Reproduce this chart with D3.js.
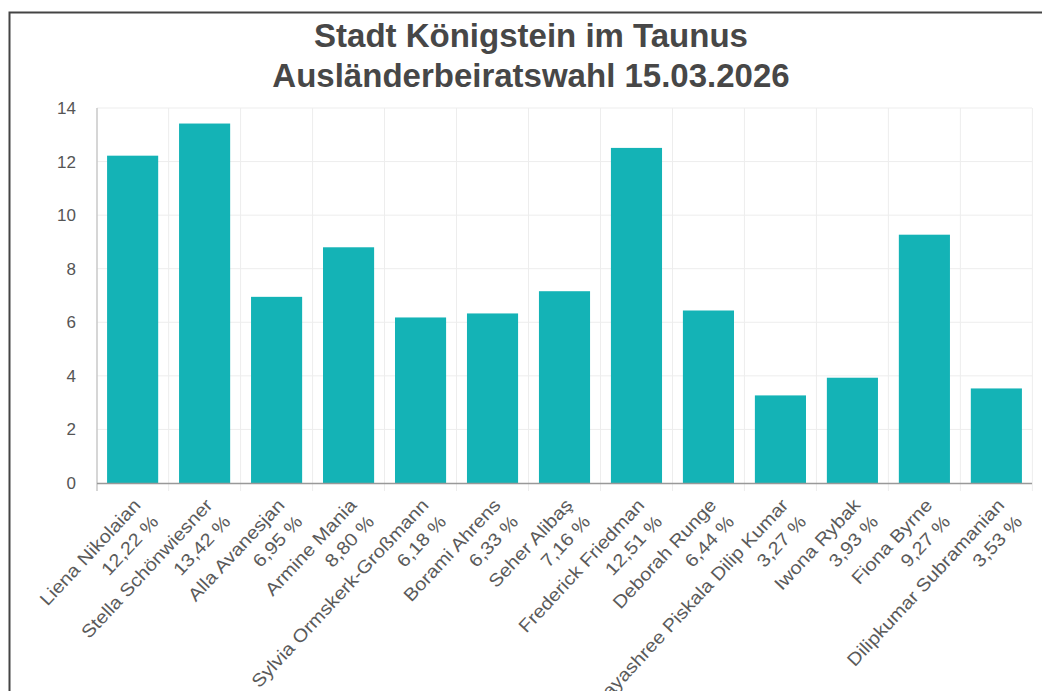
<!DOCTYPE html>
<html>
<head>
<meta charset="utf-8">
<script src="https://cdn.jsdelivr.net/npm/d3@7"></script>
<style>
  html, body { margin: 0; padding: 0; background: #fff; }
  svg { display: block; }
</style>
</head>
<body>
<svg id="chart" width="1042" height="691"></svg>
<script>
const titleLines = ["Stadt Königstein im Taunus", "Ausländerbeiratswahl 15.03.2026"];
const candidates = [
  "Liena Nikolaian", "Stella Schönwiesner", "Alla Avanesjan", "Armine Mania",
  "Sylvia Ormskerk-Großmann", "Borami Ahrens", "Seher Alibaş", "Frederick Friedman",
  "Deborah Runge", "Jayashree Piskala Dilip Kumar", "Iwona Rybak", "Fiona Byrne",
  "Dilipkumar Subramanian"
];
const percentLabels = ["12,22 %", "13,42 %", "6,95 %", "8,80 %", "6,18 %", "6,33 %", "7,16 %",
  "12,51 %", "6,44 %", "3,27 %", "3,93 %", "9,27 %", "3,53 %"];
const votes = [12.22, 13.42, 6.95, 8.80, 6.18, 6.33, 7.16, 12.51, 6.44, 3.27, 3.93, 9.27, 3.53];
const yTicks = [0, 2, 4, 6, 8, 10, 12, 14];

const svg = d3.select("#chart");
const W = 1042, H = 691;
const pLeft = 97, pRight = 1032, pTop = 108, pBottom = 483;

// frame
svg.append("path")
  .attr("d", `M9.5,${H} L9.5,12.5 L${W},12.5`)
  .attr("fill", "none").attr("stroke", "#444").attr("stroke-width", 2);

// title
titleLines.forEach((t, i) => {
  svg.append("text")
    .attr("transform", `translate(531,${47 + i * 40})`)
    .attr("text-anchor", "middle")
    .attr("font-family", "Liberation Sans, Arial, sans-serif")
    .attr("font-weight", "bold")
    .attr("font-size", 33)
    .attr("fill", "#474747")
    .text(t);
});

const x = d3.scaleBand().domain(candidates).range([pLeft, pRight]).paddingInner(0.29).paddingOuter(0.14);
const y = d3.scaleLinear().domain([0, 14]).range([pBottom, pTop]);

// horizontal grid
svg.append("g").selectAll("line").data(yTicks.slice(1)).join("line")
  .attr("x1", pLeft).attr("x2", pRight)
  .attr("y1", d => y(d)).attr("y2", d => y(d))
  .attr("stroke", "#ededed").attr("stroke-width", 1);

// vertical grid at band boundaries
const gap = x.step() * x.paddingInner();
svg.append("g").selectAll("line").data(candidates).join("line")
  .attr("x1", d => x(d) + x.bandwidth() + gap / 2).attr("x2", d => x(d) + x.bandwidth() + gap / 2)
  .attr("y1", pTop).attr("y2", pBottom + 8)
  .attr("stroke", "#ededed").attr("stroke-width", 1);

// y axis
const yAxis = svg.append("g").attr("transform", `translate(${pLeft},0)`)
  .call(d3.axisLeft(y).tickValues(yTicks).tickSize(0).tickPadding(21).tickFormat(d3.format("d")));
yAxis.select(".domain").remove();
yAxis.selectAll("text")
  .attr("font-family", "Liberation Sans, Arial, sans-serif")
  .attr("font-size", 17).attr("fill", "#555");
svg.append("line").attr("x1", pLeft).attr("x2", pLeft).attr("y1", pTop).attr("y2", pBottom + 8)
  .attr("stroke", "#c8c8c8").attr("stroke-width", 1.5);

// bars
svg.append("g").selectAll("rect").data(votes).join("rect")
  .attr("x", (d, i) => x(candidates[i]))
  .attr("width", x.bandwidth())
  .attr("y", d => y(d))
  .attr("height", d => y(0) - y(d))
  .attr("fill", "#14b3b6");

// x axis line
svg.append("line").attr("x1", pLeft).attr("x2", pRight).attr("y1", pBottom + 0.5).attr("y2", pBottom + 0.5)
  .attr("stroke", "#999").attr("stroke-width", 1.5);

// x labels
const lab = svg.append("g").selectAll("g").data(candidates).join("g")
  .attr("transform", d => `translate(${x(d) + x.bandwidth() / 2 + 9},${pBottom + 23}) rotate(-47) scale(1.12,1)`);
lab.append("text")
  .attr("text-anchor", "end")
  .attr("font-family", "Liberation Sans, Arial, sans-serif")
  .attr("font-size", 18).attr("fill", "#5a5a5a")
  .each(function (d, i) {
    const t = d3.select(this);
    t.append("tspan").attr("x", 0).attr("dy", 0).text(d);
    t.append("tspan").attr("x", 0).attr("dy", "1.35em").text(percentLabels[i]);
  });
</script>
</body>
</html>
